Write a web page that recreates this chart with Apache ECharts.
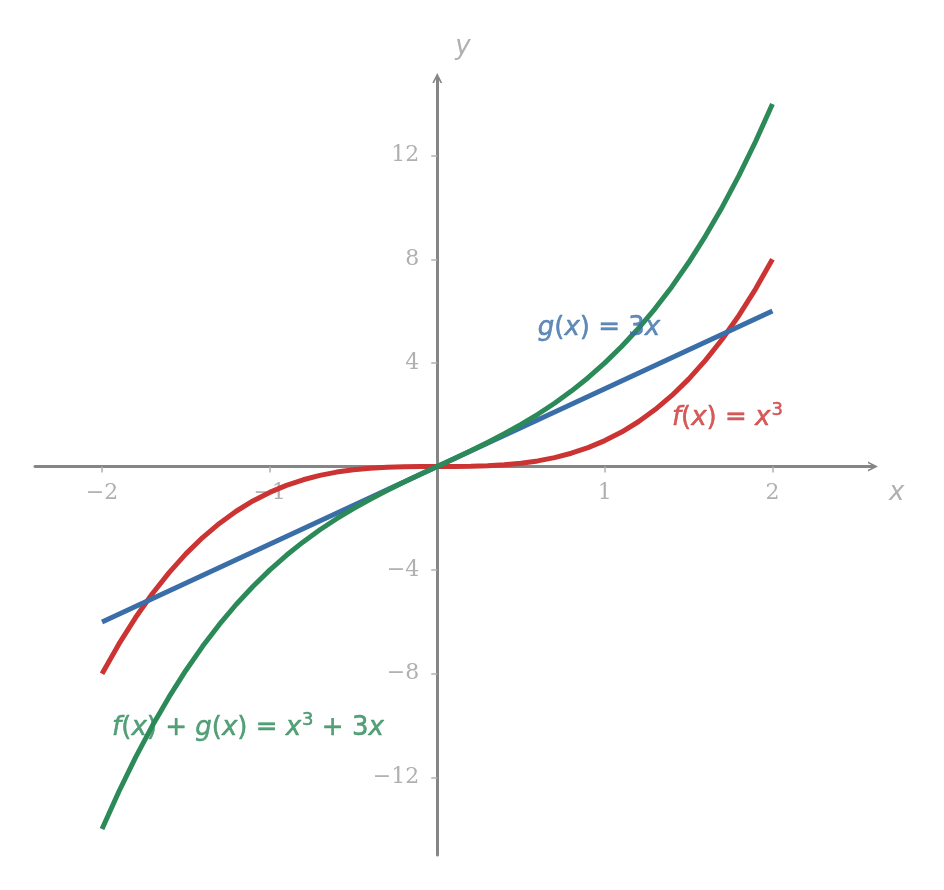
<!DOCTYPE html>
<html>
<head>
<meta charset="utf-8">
<script src="https://cdn.jsdelivr.net/npm/echarts@6/dist/echarts.min.js"></script>
<style>
  html, body { margin: 0; padding: 0; background: #fff; }
  #chart { width: 944px; height: 890px; }
</style>
</head>
<body>
<div id="chart"></div>
<script type="text/javascript">
    // x samples
    var xs = [-2, -1.9, -1.8, -1.7, -1.6, -1.5, -1.4, -1.3, -1.2, -1.1, -1, -0.9, -0.8, -0.7, -0.6, -0.5, -0.4, -0.3, -0.2, -0.1, 0,
              0.1, 0.2, 0.3, 0.4, 0.5, 0.6, 0.7, 0.8, 0.9, 1, 1.1, 1.2, 1.3, 1.4, 1.5, 1.6, 1.7, 1.8, 1.9, 2];
    // f(x) = x^3
    var fVals = [-8, -6.859, -5.832, -4.913, -4.096, -3.375, -2.744, -2.197, -1.728, -1.331, -1, -0.729, -0.512, -0.343, -0.216, -0.125, -0.064, -0.027, -0.008, -0.001, 0,
                 0.001, 0.008, 0.027, 0.064, 0.125, 0.216, 0.343, 0.512, 0.729, 1, 1.331, 1.728, 2.197, 2.744, 3.375, 4.096, 4.913, 5.832, 6.859, 8];
    // g(x) = 3x
    var gX = [-2, 2];
    var gVals = [-6, 6];
    // f(x) + g(x)
    var sumVals = [-14, -12.559, -11.232, -10.013, -8.896, -7.875, -6.944, -6.097, -5.328, -4.631, -4, -3.429, -2.912, -2.443, -2.016, -1.625, -1.264, -0.927, -0.608, -0.301, 0,
                   0.301, 0.608, 0.927, 1.264, 1.625, 2.016, 2.443, 2.912, 3.429, 4, 4.631, 5.328, 6.097, 6.944, 7.875, 8.896, 10.013, 11.232, 12.559, 14];
    var xTicks = [-2, -1, 1, 2];
    var yTicks = [-12, -8, -4, 4, 8, 12];

    var xMin = -2.4, xMax = 2.6, yMin = -15, yMax = 15;
    var red = '#cc3333', blue = '#3a6ea8', green = '#2b8a57';
    var axisGrey = '#858585', labelGrey = '#b0b0b0';

    var W = 944, H = 890;
    var gridL = 35, gridR = 71, gridT = 78, gridB = 35;
    var gridW = W - gridL - gridR, gridH = H - gridT - gridB;

    function pairs(xv, yv) {
        return xv.map(function (x, i) { return [x, yv[i]]; });
    }
    function minus(v) { return String(v).replace('-', '\u2212'); }

    // chevron arrow pointing up
    var chevron = 'path://M0,10 L5,0 L10,10 L8.2,10 L5,3.6 L1.8,10 Z';

    function mathRich(color) {
        var base = { fontFamily: 'DejaVu Sans', fontSize: 26, color: color, lineHeight: 34, textBorderColor: color, textBorderWidth: 0.5 };
        return {
            i: Object.assign({}, base, { fontStyle: 'italic' }),
            n: Object.assign({}, base),
            s: Object.assign({}, base, { fontSize: 18, verticalAlign: 'top', padding: [0, 0, 10, 1] })
        };
    }
    function textPoint(x, y, text, color) {
        return {
            type: 'scatter', symbolSize: 0, silent: true, z: 5,
            data: [[x, y]],
            label: { show: true, position: 'right', distance: 0, formatter: text, rich: mathRich(color) }
        };
    }

    var myChart = echarts.init(document.getElementById('chart'));
    var options = {
        animation: false,
        grid: { left: gridL, right: gridR, top: gridT, bottom: gridB, outerBoundsMode: 'none', containLabel: false },
        xAxis: {
            type: 'value', min: xMin, max: xMax,
            position: 'bottom', offset: -(0 - yMin) / (yMax - yMin) * gridH,
            name: 'x', nameLocation: 'end', nameGap: 16,
            nameTextStyle: { fontFamily: 'DejaVu Sans', fontStyle: 'italic', fontSize: 26, color: labelGrey, verticalAlign: 'top', padding: [14, 0, 0, 0] },
            axisLine: { onZero: false, symbol: ['none', chevron], symbolSize: [15, 10], lineStyle: { color: axisGrey, width: 3 } },
            axisTick: { show: true, length: 6, customValues: xTicks, lineStyle: { color: labelGrey, width: 1.5 } },
            axisLabel: { customValues: xTicks, margin: 16, color: labelGrey, fontFamily: 'DejaVu Serif', fontSize: 22, formatter: minus },
            splitLine: { show: false }
        },
        yAxis: {
            type: 'value', min: yMin, max: yMax,
            position: 'left', offset: -(0 - xMin) / (xMax - xMin) * gridW,
            name: 'y', nameLocation: 'end', nameGap: 18,
            nameTextStyle: { fontFamily: 'DejaVu Sans', fontStyle: 'italic', fontSize: 26, color: labelGrey, align: 'left', padding: [0, 0, 0, 18] },
            axisLine: { onZero: false, symbol: ['none', chevron], symbolSize: [15, 10], lineStyle: { color: axisGrey, width: 3 } },
            axisTick: { show: true, length: 6, customValues: yTicks, lineStyle: { color: labelGrey, width: 1.5 } },
            axisLabel: { customValues: yTicks, margin: 18, color: labelGrey, fontFamily: 'DejaVu Serif', fontSize: 22, formatter: minus },
            splitLine: { show: false }
        },
        series: [
            { type: 'line', data: pairs(xs, fVals), showSymbol: false, lineStyle: { color: red, width: 5 }, z: 3 },
            { type: 'line', data: pairs(gX, gVals), showSymbol: false, lineStyle: { color: blue, width: 5 }, z: 3 },
            { type: 'line', data: pairs(xs, sumVals), showSymbol: false, lineStyle: { color: green, width: 5 }, z: 3 },
            textPoint(0.60, 5.35, '{i|g}{n|(}{i|x}{n|) = 3}{i|x}', blue),
            textPoint(1.40, 1.87, '{i|f}{n|(}{i|x}{n|) = }{i|x}{s|3}', red),
            textPoint(-1.94, -10.1, '{i|f}{n|(}{i|x}{n|) + }{i|g}{n|(}{i|x}{n|) = }{i|x}{s|3}{n| + 3}{i|x}', green)
        ]
    };
    myChart.setOption(options);
</script>
</body>
</html>
